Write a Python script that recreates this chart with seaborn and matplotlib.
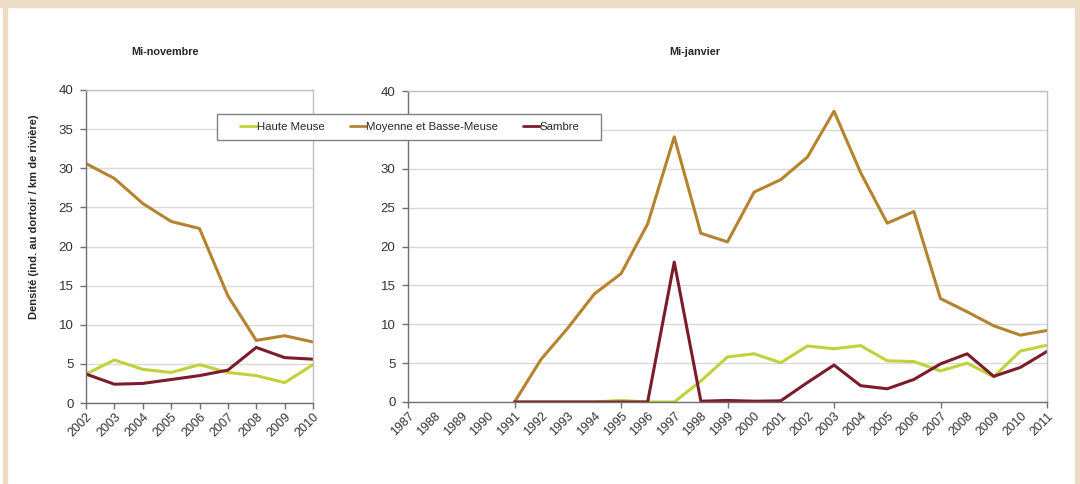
import matplotlib
matplotlib.use("Agg")
import matplotlib.pyplot as plt
import matplotlib.patches as mpatches
import seaborn as sns
import pandas as pd
import numpy as np

# Mi-novembre (2002-2010)
nov_years = list(range(2002, 2011))
nov_haute = [3.7, 5.5, 4.3, 3.9, 4.9, 3.9, 3.5, 2.6, 4.9]
nov_moyenne = [30.6, 28.7, 25.5, 23.2, 22.3, 13.7, 8.0, 8.6, 7.8]
nov_sambre = [3.7, 2.4, 2.5, 3.0, 3.5, 4.2, 7.1, 5.8, 5.6]

# Mi-janvier (axis 1987-2011, data from 1991)
jan_axis_years = list(range(1987, 2012))
jan_tick_years = list(range(1987, 2012, 4))
jan_years = list(range(1991, 2012))
jan_haute = [0, 0, 0, 0, 0.2, 0, 0, 2.7, 5.8, 6.2, 5.05, 7.2, 6.85, 7.25,
             5.3, 5.2, 4.0, 5.0, 3.25, 6.55, 7.3]
jan_moyenne = [0, 5.5, 9.5, 13.9, 16.5, 22.9, 34.1, 21.7, 20.6, 27.0, 28.6,
               31.5, 37.4, 29.5, 23.0, 24.5, 13.3, 11.6, 9.8, 8.6, 9.2]
jan_sambre = [0, 0, 0, 0, 0, 0, 18.0, 0.1, 0.2, 0.1, 0.15, 2.5, 4.75, 2.1,
              1.7, 2.9, 4.9, 6.2, 3.3, 4.45, 6.5]

series_names = ["Haute Meuse", "Moyenne et Basse-Meuse", "Sambre"]
palette = {"Haute Meuse": "#c2d03c",
           "Moyenne et Basse-Meuse": "#b5832e",
           "Sambre": "#7a1c2b"}


def to_long(years, haute, moyenne, sambre):
    frames = []
    for name, vals in zip(series_names, [haute, moyenne, sambre]):
        frames.append(pd.DataFrame({"year": years, "value": vals, "zone": name}))
    return pd.concat(frames, ignore_index=True)


df_nov = to_long(nov_years, nov_haute, nov_moyenne, nov_sambre)
df_jan = to_long(jan_years, jan_haute, jan_moyenne, jan_sambre)

sns.set_theme(style="white")
plt.rcParams["font.family"] = ["Liberation Sans", "DejaVu Sans"]

fig = plt.figure(figsize=(10.8, 4.84), dpi=100)
fig.patch.set_facecolor("white")

# beige frame
beige = "#ecdcc3"
fig.add_artist(mpatches.Rectangle((0, 1 - 7 / 484), 1, 7 / 484, transform=fig.transFigure,
                                  color=beige, zorder=0))
fig.add_artist(mpatches.Rectangle((3 / 1080, 0), 4 / 1080, 1, transform=fig.transFigure,
                                  color=beige, zorder=0))
fig.add_artist(mpatches.Rectangle((1075 / 1080, 0), 4 / 1080, 1, transform=fig.transFigure,
                                  color=beige, zorder=0))

ax1 = fig.add_axes([86 / 1080, 1 - 403 / 484, 227 / 1080, 313 / 484])
ax2 = fig.add_axes([408 / 1080, 1 - 402 / 484, 639 / 1080, 311 / 484])


def style_axis(ax, xmin, xmax, tick_years, label_years):
    ax.set_ylim(0, 40)
    ax.set_xlim(xmin, xmax)
    ax.set_yticks(np.arange(0, 41, 5))
    ax.yaxis.grid(True, color="#d9d9d9", lw=1)
    ax.xaxis.grid(False)
    ax.set_axisbelow(True)
    for s in ["top", "right"]:
        ax.spines[s].set_color("#c0c0c0")
        ax.spines[s].set_linewidth(1)
    for s in ["left", "bottom"]:
        ax.spines[s].set_color("#707070")
        ax.spines[s].set_linewidth(1)
    ax.xaxis.remove_overlapping_locs = False
    # labels on every year, tick marks only where asked
    ax.set_xticks(label_years)
    ax.set_xticklabels([str(y) for y in label_years], rotation=45, ha="right",
                       rotation_mode="anchor", fontsize=9, color="#333333")
    ax.tick_params(axis="x", which="major", length=0, pad=6, bottom=True)
    ax.set_xticks(tick_years, minor=True)
    ax.tick_params(axis="x", which="minor", direction="out", length=4,
                   color="#707070", width=1, bottom=True)
    ax.tick_params(axis="y", direction="out", length=4, color="#707070",
                   width=1, left=True, labelsize=9.5, labelcolor="#333333", pad=5)
    ax.set_xlabel("")
    ax.set_ylabel("")


for ax, df in [(ax1, df_nov), (ax2, df_jan)]:
    sns.lineplot(data=df, x="year", y="value", hue="zone", palette=palette,
                 hue_order=series_names, lw=2.2, ax=ax, legend=False)

style_axis(ax1, 2002, 2010, nov_years, nov_years)
style_axis(ax2, 1987, 2011, jan_tick_years, jan_axis_years)

ax1.set_ylabel("Densité (ind. au dortoir / km de rivière)", fontsize=8,
               fontweight="bold")
ax1.yaxis.set_label_coords(-0.205, 0.596)

fig.text(165 / 1080, 1 - 52 / 484, "Mi-novembre", ha="center", va="center",
         fontsize=7.8, fontweight="bold")
fig.text(695 / 1080, 1 - 52 / 484, "Mi-janvier", ha="center", va="center",
         fontsize=7.8, fontweight="bold")

# legend box drawn as its own patch so the side padding can be wider
fig.add_artist(mpatches.Rectangle((217 / 1080, 1 - 140 / 484), 384 / 1080, 26 / 484,
                                  transform=fig.transFigure, facecolor="white",
                                  edgecolor="#808080", lw=1, zorder=5))
handles = [plt.Line2D([], [], color=palette[n], lw=2) for n in series_names]
leg = fig.legend(handles, series_names, loc="center",
                 bbox_to_anchor=(410 / 1080, 1 - 127 / 484), ncol=3,
                 fontsize=8.2, frameon=False, handlelength=1.45,
                 handletextpad=0.0, columnspacing=2.2, borderpad=0.3)
leg.set_zorder(10)

fig.savefig("out.png", dpi=100)
